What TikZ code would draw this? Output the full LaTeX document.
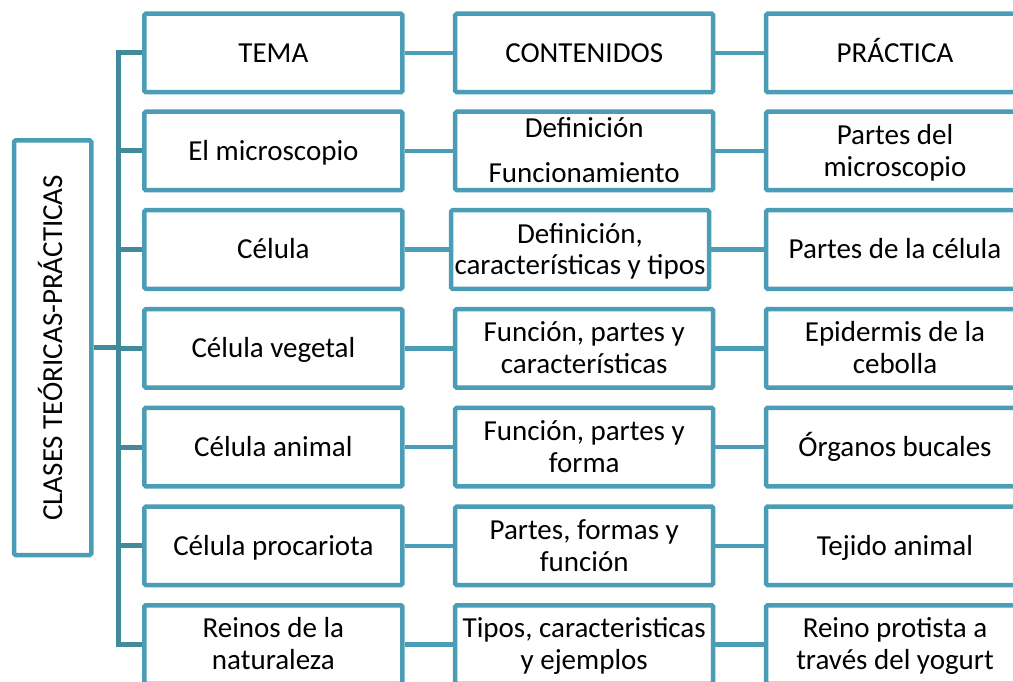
\documentclass[tikz,border=0pt]{standalone}
\usepackage{fontspec}
\setmainfont{Carlito}
\definecolor{boxc}{HTML}{4B9DB5}
\definecolor{busc}{HTML}{408A9C}
\newcommand{\lns}[3][32pt]{\vbox{\baselineskip=#1\lineskiplimit=-100pt\relax\halign{\hfil##\hfil\cr#2\cr#3\cr}}}
\begin{document}
\begin{tikzpicture}[x=1pt,y=-1pt,
  cell/.style={draw=boxc,line width=4.5pt,fill=white,minimum width=258pt,minimum height=78.5pt,inner sep=0pt,rounded corners=1.5pt,font=\fontsize{29}{32}\selectfont,text height=18.7pt,text depth=0pt},
  twol/.style={text height=50.7pt},
  link/.style={draw=boxc,line width=4.5pt},
  busline/.style={draw=busc,line width=5pt}]
\useasboundingbox (0,0) rectangle (1013,682);
% left box
\node[cell,rotate=90,minimum width=414.5pt,minimum height=77.3pt] (L) at (52.65,347.75) {CLASES TEÓRICAS-PRÁCTICAS};
% column 1
\node[cell] (a1) at (273.4,53) {TEMA};
\node[cell] (a2) at (273.4,151) {El microscopio};
\node[cell] (a3) at (273.4,249.5) {Célula};
\node[cell] (a4) at (273.4,348.3) {Célula vegetal};
\node[cell] (a5) at (273.4,447) {Célula animal};
\node[cell] (a6) at (273.4,545.8) {Célula procariota};
\node[cell,twol] (a7) at (273.4,644.5) {\lns{Reinos de la}{naturaleza}};
% column 2
\node[cell] (b1) at (584.2,53) {CONTENIDOS};
\node[cell,text height=63.7pt] (b2) at (584.2,151) {\lns[45pt]{Definición}{Funcionamiento}};
\node[cell,twol] (b3) at (580,249.5) {\lns[31pt]{Definición,}{características y tipos}};
\node[cell,twol] (b4) at (584.2,348.3) {\lns{Función, partes y}{características}};
\node[cell,twol] (b5) at (584.2,447) {\lns{Función, partes y}{forma}};
\node[cell,twol] (b6) at (584.2,545.8) {\lns{Partes, formas y}{función}};
\node[cell,twol] (b7) at (584.2,644.5) {\lns{Tipos, caracteristicas}{y ejemplos}};
% column 3
\node[cell] (c1) at (895,53) {PRÁCTICA};
\node[cell,twol] (c2) at (895,151) {\lns{Partes del}{microscopio}};
\node[cell] (c3) at (895,249.5) {Partes de la célula};
\node[cell,twol] (c4) at (895,348.3) {\lns{Epidermis de la}{cebolla}};
\node[cell] (c5) at (895,447) {Órganos bucales};
\node[cell] (c6) at (895,545.8) {Tejido animal};
\node[cell,twol] (c7) at (895,644.5) {\lns{Reino protista a}{través del yogurt}};
% bus
\coordinate (bus) at (118.2,53);
\draw[busline] (a1.west) -- (a1.west -| bus) |- (a7.west);
\foreach \i in {2,...,6} {\draw[busline] (a\i.west -| bus) -- (a\i.west);}
\draw[busline] (L.south) -- (L.south -| bus);
% row links
\foreach \i in {1,...,7} {
  \draw[link] (a\i.east) -- (b\i.west);
  \draw[link] (b\i.east) -- (c\i.west);
}
\end{tikzpicture}
\end{document}
